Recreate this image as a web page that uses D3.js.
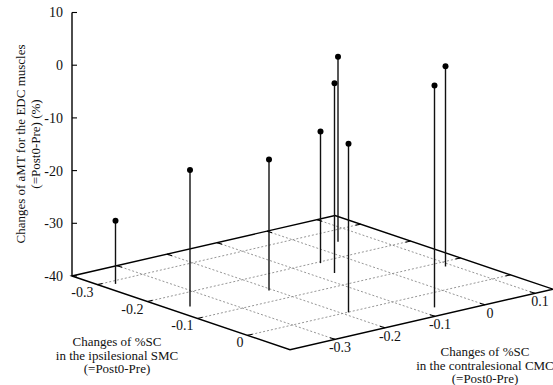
<!DOCTYPE html>
<html>
<head>
<meta charset="utf-8">
<script src="https://cdn.jsdelivr.net/npm/d3@7/dist/d3.min.js"></script>
<style>
  html, body { margin: 0; padding: 0; background: #fff; }
  svg { display: block; }
</style>
</head>
<body>
<svg id="chart" width="553" height="385"></svg>
<script>
// ---- data ----
const ipsiSMC   = [-0.288, -0.148, -0.140, -0.195, -0.149, -0.256, 0.001, 0.053, -0.082];
const contraCMC = [-0.366, -0.357, -0.207, -0.049, -0.067, 0.047, -0.189, -0.069, 0.088];
const amtEDC    = [-28.0, -14.1, -15.1, -15.0, -4.0, -4.9, -8.0, 2.1, -2.0];

const xTickValues = [-0.3, -0.2, -0.1, 0];
const yTickValues = [-0.3, -0.2, -0.1, 0, 0.1];
const zTickValues = [-40, -30, -20, -10, 0, 10];

const xDomain = [-0.351, 0.085];
const yDomain = [-0.39, 0.136];
const zDomain = [-40, 10];

const zTitle = ["Changes of aMT for the EDC muscles", "(=Post0-Pre) (%)"];
const xTitle = ["Changes of %SC", "in the ipsilesional SMC", "(=Post0-Pre)"];
const yTitle = ["Changes of %SC", "in the contralesional CMC", "(=Post0-Pre)"];

// ---- projection geometry ----
const origin = [72, 276];      // screen position of (xmin, ymin, zmin)
const vecX = [218, 73.7];      // screen span of the x (ipsilesional) axis
const vecY = [263, -60.5];     // screen span of the y (contralesional) axis

const xS = d3.scaleLinear().domain(xDomain).range([0, 1]);
const yS = d3.scaleLinear().domain(yDomain).range([0, 1]);
const zS = d3.scaleLinear().domain(zDomain).range([276, 12.5]);

function proj(x, y, z) {
  const fx = xS(x), fy = yS(y);
  return [
    origin[0] + fx * vecX[0] + fy * vecY[0],
    origin[1] + fx * vecX[1] + fy * vecY[1] + (zS(z) - zS(zDomain[0]))
  ];
}

const svg = d3.select("#chart")
  .attr("font-family", "'Liberation Serif', 'Times New Roman', 'DejaVu Serif', serif");
const line = d3.line();
const z0 = zDomain[0];

// ---- grid on the base ----
const grid = svg.append("g")
  .attr("stroke", "#8a8a8a").attr("stroke-width", 0.9)
  .attr("stroke-dasharray", "2,2").attr("fill", "none");
xTickValues.forEach(v => {
  grid.append("path").attr("d", line([proj(v, yDomain[0], z0), proj(v, yDomain[1], z0)]));
});
yTickValues.forEach(v => {
  grid.append("path").attr("d", line([proj(xDomain[0], v, z0), proj(xDomain[1], v, z0)]));
});

// ---- base border ----
const corners = [
  proj(xDomain[0], yDomain[0], z0),
  proj(xDomain[1], yDomain[0], z0),
  proj(xDomain[1], yDomain[1], z0),
  proj(xDomain[0], yDomain[1], z0)
];
svg.append("path")
  .attr("d", line(corners) + "Z")
  .attr("fill", "none").attr("stroke", "#000").attr("stroke-width", 1.4);

// ---- ticks on base edges ----
const ticks = svg.append("g").attr("stroke", "#000").attr("stroke-width", 1.1);
const tx = 0.01, ty = 0.01;
xTickValues.forEach(v => {
  ticks.append("path").attr("d", line([proj(v, yDomain[0], z0), proj(v, yDomain[0] + ty, z0)]));
  ticks.append("path").attr("d", line([proj(v, yDomain[1], z0), proj(v, yDomain[1] - ty, z0)]));
});
yTickValues.forEach(v => {
  ticks.append("path").attr("d", line([proj(xDomain[1], v, z0), proj(xDomain[1] - tx, v, z0)]));
  ticks.append("path").attr("d", line([proj(xDomain[0], v, z0), proj(xDomain[0] + tx, v, z0)]));
});

// ---- z axis ----
const zAxisX = proj(xDomain[0], yDomain[0], z0)[0];
svg.append("line")
  .attr("x1", zAxisX).attr("x2", zAxisX)
  .attr("y1", zS(zDomain[0])).attr("y2", zS(zDomain[1]))
  .attr("stroke", "#000").attr("stroke-width", 1.4);
zTickValues.forEach(v => {
  svg.append("line")
    .attr("x1", zAxisX).attr("x2", zAxisX + 5)
    .attr("y1", zS(v)).attr("y2", zS(v))
    .attr("stroke", "#000").attr("stroke-width", 1.1);
  svg.append("text")
    .attr("x", zAxisX - 9).attr("y", zS(v))
    .attr("dy", "0.35em").attr("text-anchor", "end")
    .attr("font-size", 14).attr("fill", "#111").text(String(v));
});

// ---- tick labels on base ----
xTickValues.forEach(v => {
  const p = proj(v, yDomain[0], z0);
  svg.append("text")
    .attr("x", p[0] - 4).attr("y", p[1] + 12)
    .attr("text-anchor", "end").attr("font-size", 14).attr("fill", "#111").text(String(v));
});
yTickValues.forEach(v => {
  const p = proj(xDomain[1], v, z0);
  svg.append("text")
    .attr("x", p[0] + 5).attr("y", p[1] + 13)
    .attr("text-anchor", "middle").attr("font-size", 14).attr("fill", "#111").text(String(v));
});

// ---- stems and points ----
const pts = ipsiSMC.map((x, i) => ({ x, y: contraCMC[i], z: amtEDC[i] }));
svg.append("g").selectAll("path").data(pts).join("path")
  .attr("d", d => line([proj(d.x, d.y, z0), proj(d.x, d.y, d.z)]))
  .attr("stroke", "#111").attr("stroke-width", 1.4).attr("fill", "none");
svg.append("g").selectAll("circle").data(pts).join("circle")
  .attr("cx", d => proj(d.x, d.y, d.z)[0])
  .attr("cy", d => proj(d.x, d.y, d.z)[1])
  .attr("r", 3).attr("fill", "#000");

// ---- axis titles ----
const zt = svg.append("text")
  .attr("transform", "translate(25,144) rotate(-90)")
  .attr("text-anchor", "middle").attr("font-size", 13).attr("fill", "#111");
zt.append("tspan").attr("x", 0).attr("y", 0).text(zTitle[0]);
zt.append("tspan").attr("x", 0).attr("y", 15).text(zTitle[1]);

const xt = svg.append("text").attr("text-anchor", "middle").attr("font-size", 13).attr("fill", "#111");
xTitle.forEach((s, i) => xt.append("tspan").attr("x", 117).attr("y", 346 + i * 13.5).text(s));

const yt = svg.append("text").attr("text-anchor", "middle").attr("font-size", 13).attr("fill", "#111");
yTitle.forEach((s, i) => yt.append("tspan").attr("x", 485).attr("y", 356 + i * 13.5).text(s));
</script>
</body>
</html>
